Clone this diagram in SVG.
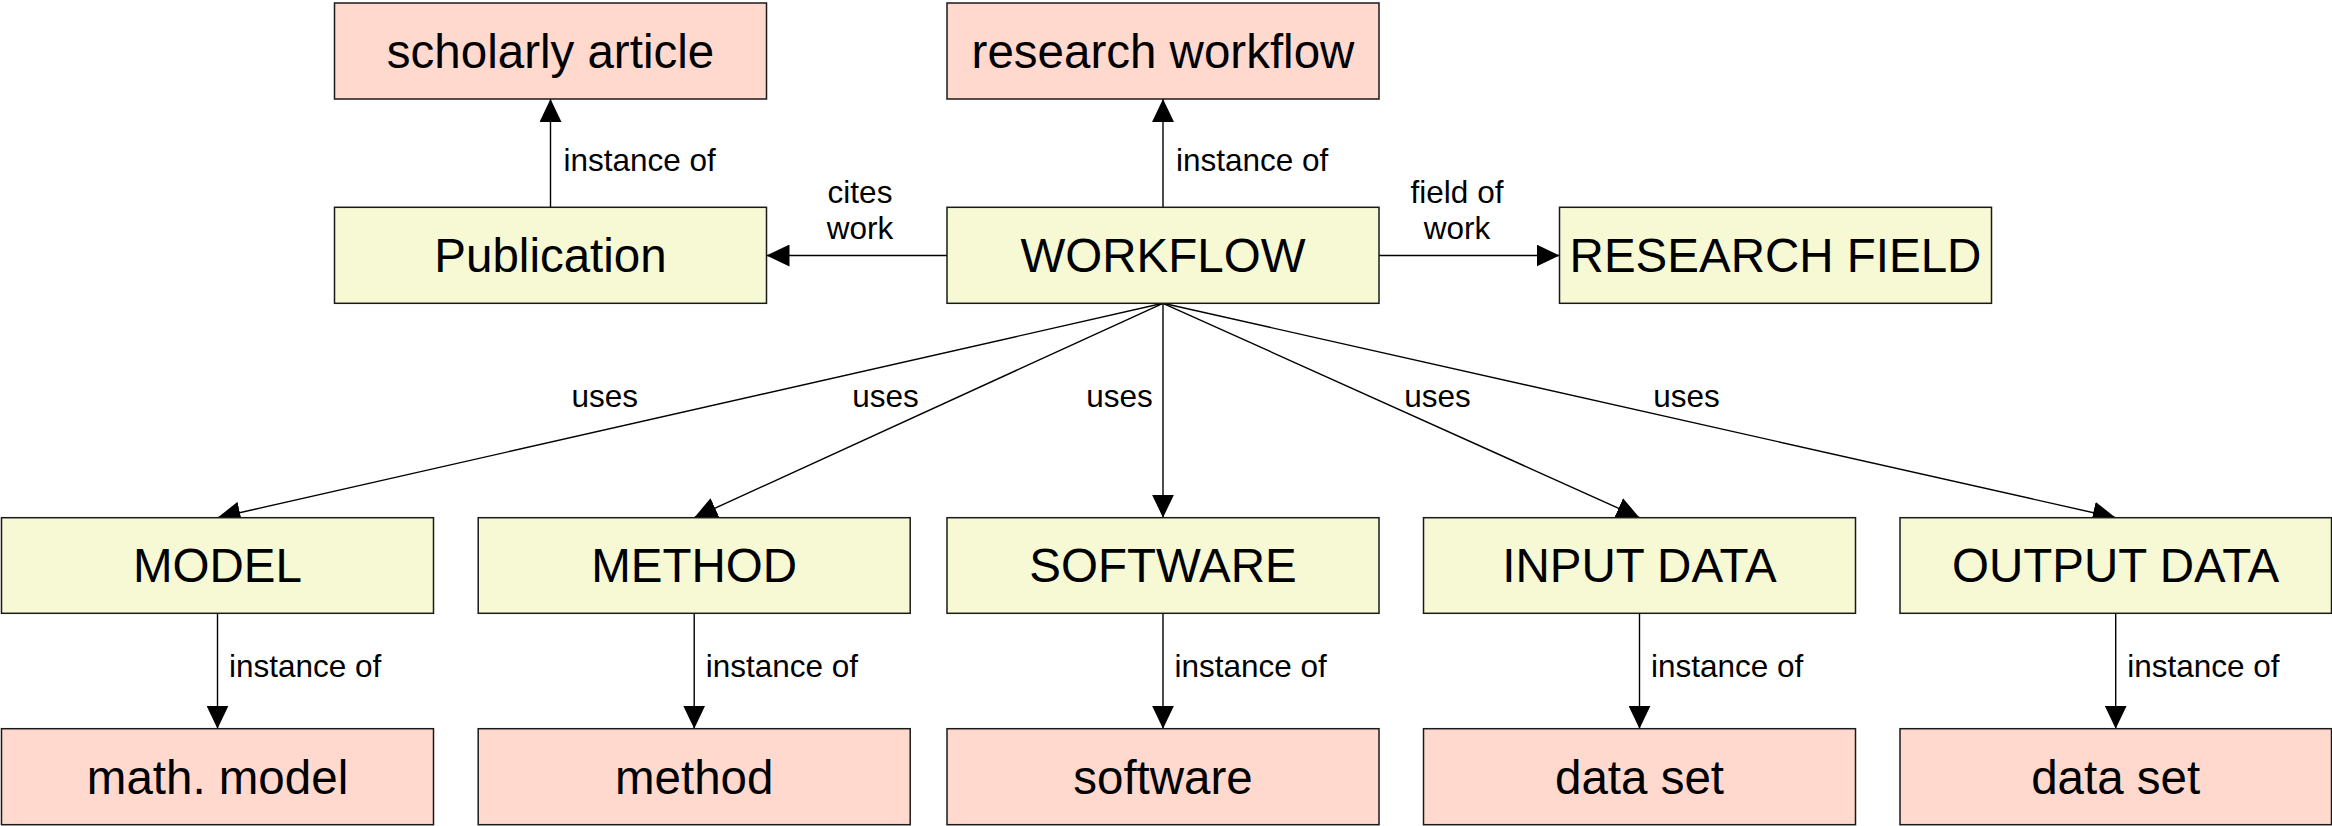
<svg xmlns="http://www.w3.org/2000/svg" width="2332" height="826" viewBox="0 0 2332 826">
<defs>
<marker id="arr" markerUnits="userSpaceOnUse" markerWidth="23" markerHeight="22" viewBox="0 0 23 22" refX="23" refY="11" orient="auto">
<path d="M0,0 L23,11 L0,22 z" fill="#000"/>
</marker>
<style>
.cls{fill:#ffd8ce;stroke:#1a1a1a;stroke-width:1.5}
.ent{fill:#f6f9d4;stroke:#1a1a1a;stroke-width:1.5}
.lbl{font-family:"Liberation Sans",Arial,sans-serif;font-size:47.5px;fill:#000;text-anchor:middle}
.el{font-family:"Liberation Sans",Arial,sans-serif;font-size:31.5px;fill:#000}
.mid{text-anchor:middle}
.con{stroke:#000;stroke-width:1.4;fill:none;marker-end:url(#arr)}
</style>
</defs>
<rect width="2332" height="826" fill="#fff"/>
<g id="connectors">
<line class="con" x1="550.5" y1="207.3" x2="550.5" y2="99"/>
<line class="con" x1="1163" y1="207.3" x2="1163" y2="99"/>
<line class="con" x1="947" y1="255.5" x2="766.5" y2="255.5"/>
<line class="con" x1="1379" y1="255.5" x2="1559.5" y2="255.5"/>
<line class="con" x1="1163" y1="303.3" x2="217.5" y2="517.7"/>
<line class="con" x1="1163" y1="303.3" x2="694.2" y2="517.7"/>
<line class="con" x1="1163" y1="303.3" x2="1163" y2="517.7"/>
<line class="con" x1="1163" y1="303.3" x2="1639.5" y2="517.7"/>
<line class="con" x1="1163" y1="303.3" x2="2115.7" y2="517.7"/>
<line class="con" x1="217.5" y1="613.3" x2="217.5" y2="728.7"/>
<line class="con" x1="694.2" y1="613.3" x2="694.2" y2="728.7"/>
<line class="con" x1="1163" y1="613.3" x2="1163" y2="728.7"/>
<line class="con" x1="1639.5" y1="613.3" x2="1639.5" y2="728.7"/>
<line class="con" x1="2115.7" y1="613.3" x2="2115.7" y2="728.7"/>
<text class="el" x="563.5" y="171">instance of</text>
<text class="el" x="1176" y="171">instance of</text>
<text class="el mid" x="860" y="203">cites</text>
<text class="el mid" x="860" y="239">work</text>
<text class="el mid" x="1457" y="202.5">field of</text>
<text class="el mid" x="1457" y="238.5">work</text>
<text class="el mid" x="604.8" y="406.7">uses</text>
<text class="el mid" x="885.6" y="406.7">uses</text>
<text class="el mid" x="1119.5" y="406.7">uses</text>
<text class="el mid" x="1437.4" y="406.7">uses</text>
<text class="el mid" x="1686.6" y="406.7">uses</text>
<text class="el" x="229" y="677.3">instance of</text>
<text class="el" x="705.7" y="677.3">instance of</text>
<text class="el" x="1174.5" y="677.3">instance of</text>
<text class="el" x="1651" y="677.3">instance of</text>
<text class="el" x="2127.2" y="677.3">instance of</text>
</g>
<g id="scholarly-article"><rect class="cls" x="334.5" y="3" width="432" height="96"/><text class="lbl" x="550.5" y="68">scholarly article</text></g>
<g id="research-workflow"><rect class="cls" x="947" y="3" width="432" height="96"/><text class="lbl" x="1163" y="68">research workflow</text></g>
<g id="publication"><rect class="ent" x="334.5" y="207.3" width="432" height="96"/><text class="lbl" x="550.5" y="272">Publication</text></g>
<g id="workflow"><rect class="ent" x="947" y="207.3" width="432" height="96"/><text class="lbl" x="1163" y="272">WORKFLOW</text></g>
<g id="research-field"><rect class="ent" x="1559.5" y="207.3" width="432" height="96"/><text class="lbl" x="1775.5" y="272">RESEARCH FIELD</text></g>
<g id="model"><rect class="ent" x="1.5" y="517.7" width="432" height="95.6"/><text class="lbl" x="217.5" y="582">MODEL</text></g>
<g id="method-node"><rect class="ent" x="478.2" y="517.7" width="432" height="95.6"/><text class="lbl" x="694.2" y="582">METHOD</text></g>
<g id="software-node"><rect class="ent" x="947" y="517.7" width="432" height="95.6"/><text class="lbl" x="1163" y="582">SOFTWARE</text></g>
<g id="input-data"><rect class="ent" x="1423.5" y="517.7" width="432" height="95.6"/><text class="lbl" x="1639.5" y="582">INPUT DATA</text></g>
<g id="output-data"><rect class="ent" x="1900" y="517.7" width="431.5" height="95.6"/><text class="lbl" x="2115.7" y="582">OUTPUT DATA</text></g>
<g id="math-model"><rect class="cls" x="1.5" y="728.7" width="432" height="96"/><text class="lbl" x="217.5" y="793.5">math. model</text></g>
<g id="method-class"><rect class="cls" x="478.2" y="728.7" width="432" height="96"/><text class="lbl" x="694.2" y="793.5">method</text></g>
<g id="software-class"><rect class="cls" x="947" y="728.7" width="432" height="96"/><text class="lbl" x="1163" y="793.5">software</text></g>
<g id="data-set-1"><rect class="cls" x="1423.5" y="728.7" width="432" height="96"/><text class="lbl" x="1639.5" y="793.5">data set</text></g>
<g id="data-set-2"><rect class="cls" x="1900" y="728.7" width="431.5" height="96"/><text class="lbl" x="2115.7" y="793.5">data set</text></g>
</svg>
